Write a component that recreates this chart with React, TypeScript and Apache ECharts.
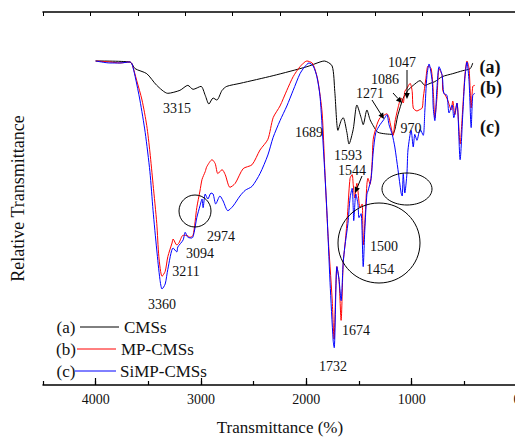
import React, { useEffect, useRef } from "react";
import * as echarts from "echarts";

// (a) CMSs
const cmsWavenumber = [4000, 3675, 3625, 3515, 3420, 3315, 3200, 3125, 3075, 3000, 2960, 2925, 2885, 2850, 2800, 2755, 2630, 2315, 1995, 1870, 1830, 1755, 1730, 1700, 1670, 1650, 1615, 1595, 1555, 1520, 1480, 1460, 1425, 1395, 1365, 1320, 1185, 1130, 1080, 1035, 985, 920, 875, 825, 780, 710, 610, 515, 445, 420];
const cmsT = [13.03, 12.99, 12.72, 12.52, 12.05, 11.73, 11.85, 12.05, 11.89, 12.01, 11.65, 11.3, 11.54, 11.46, 11.85, 12.01, 12.13, 12.44, 12.8, 12.99, 13.03, 12.83, 11.81, 10.24, 10.63, 10.75, 10.16, 9.69, 10.28, 11.26, 10.75, 10.47, 11.06, 10.67, 10.43, 10.16, 10.08, 10.87, 11.54, 11.85, 12.05, 12.24, 12.05, 12.13, 12.2, 12.4, 12.52, 12.64, 12.72, 12.95];

// (b) MP-CMSs
const mpWavenumber = [4000, 3865, 3770, 3675, 3655, 3610, 3560, 3515, 3485, 3455, 3420, 3400, 3370, 3340, 3315, 3275, 3265, 3230, 3210, 3170, 3135, 3105, 3075, 3040, 3010, 2990, 2960, 2945, 2895, 2865, 2840, 2800, 2770, 2725, 2675, 2600, 2515, 2440, 2365, 2315, 2250, 2185, 2125, 2060, 1995, 1945, 1920, 1890, 1850, 1825, 1795, 1755, 1737, 1710, 1690, 1670, 1650, 1635, 1615, 1605, 1585, 1565, 1555, 1540, 1520, 1510, 1490, 1470, 1460, 1445, 1425, 1415, 1395, 1375, 1365, 1330, 1300, 1270, 1255, 1235, 1215, 1205, 1175, 1160, 1130, 1100, 1080, 1065, 1045, 1015, 995, 985, 950, 930, 900, 890, 865, 845, 815, 795, 780, 760, 740, 710, 705, 675, 655, 625, 610, 590, 570, 540, 515, 495, 475, 455, 435, 420, 400];
const mpT = [13.03, 12.99, 12.95, 12.99, 12.91, 12.24, 11.46, 10.43, 9.37, 8.07, 6.5, 5.16, 4.37, 4.57, 5.16, 5.71, 5.87, 5.63, 5.71, 6.02, 6.02, 5.94, 6.02, 7.13, 7.8, 8.27, 8.58, 8.78, 9.06, 8.9, 8.5, 8.66, 8.46, 7.95, 8.11, 8.7, 8.86, 9.45, 9.88, 10.75, 11.22, 11.85, 12.4, 12.8, 13.03, 12.95, 12.72, 12.24, 10.94, 8.7, 6.1, 3.46, 1.85, 4.76, 4.25, 2.6, 4.92, 5.55, 6.5, 7.13, 8.31, 8.46, 8.07, 7.52, 8.11, 7.8, 7.13, 7.28, 5.63, 6.5, 8.07, 8.31, 8.07, 8.98, 9.88, 10.47, 10.75, 10.83, 10.87, 10.91, 10.75, 10.55, 10.04, 10.55, 11.14, 11.54, 11.34, 11.81, 11.93, 12.13, 11.81, 11.14, 11.02, 11.06, 11.14, 11.54, 12.32, 12.83, 12.72, 11.81, 10.75, 11.54, 12.72, 12.44, 11.85, 11.61, 11.42, 11.06, 11.42, 10.87, 11.34, 9.69, 11.14, 12.44, 13.03, 12.72, 11.14, 12.01, 12.05];

// (c) SiMP-CMSs
const simpWavenumber = [4000, 3865, 3770, 3675, 3655, 3625, 3580, 3530, 3485, 3455, 3420, 3390, 3370, 3340, 3315, 3265, 3230, 3220, 3170, 3150, 3125, 3085, 3065, 3040, 3010, 2990, 2980, 2960, 2935, 2905, 2885, 2860, 2820, 2790, 2745, 2695, 2630, 2580, 2515, 2440, 2365, 2315, 2250, 2185, 2125, 2060, 2015, 1975, 1935, 1900, 1870, 1840, 1805, 1775, 1745, 1735, 1710, 1690, 1670, 1650, 1635, 1605, 1585, 1565, 1555, 1550, 1530, 1510, 1500, 1480, 1460, 1445, 1425, 1415, 1385, 1365, 1340, 1300, 1265, 1235, 1215, 1185, 1160, 1130, 1100, 1090, 1080, 1065, 1045, 1035, 1005, 985, 970, 950, 920, 890, 875, 855, 835, 805, 795, 780, 760, 740, 710, 695, 665, 645, 615, 600, 570, 540, 515, 495, 475, 455, 435, 420, 400];
const simpT = [13.03, 12.95, 12.95, 12.99, 12.91, 12.4, 11.46, 10.16, 8.58, 7.01, 5.43, 4.25, 3.86, 4.06, 4.65, 5.51, 5.35, 5.55, 5.83, 6.14, 5.94, 5.91, 6.14, 6.73, 7.2, 7.48, 7.13, 7.68, 7.48, 7.72, 7.68, 7.28, 7.6, 7.4, 7.01, 7.2, 7.6, 7.83, 7.99, 8.5, 9.25, 9.96, 10.63, 11.22, 11.85, 12.52, 12.8, 12.95, 12.83, 12.4, 11.61, 9.65, 7.01, 4.13, 1.77, 1.5, 4.76, 4.25, 3.39, 4.92, 5.55, 6.5, 7.52, 7.91, 7.13, 6.61, 7.68, 7.28, 6.73, 6.89, 4.76, 6.22, 7.68, 7.8, 8.31, 9.37, 10.16, 10.47, 10.67, 10.87, 10.47, 10.08, 9.57, 8.66, 7.72, 7.6, 8.5, 7.72, 8.5, 9.45, 10.24, 9.57, 10.08, 9.84, 10.28, 10.04, 11.02, 12.44, 12.91, 12.2, 11.14, 10.63, 11.93, 12.8, 12.44, 11.73, 11.65, 10.94, 11.26, 10.75, 11.34, 9.06, 10.87, 12.32, 12.99, 12.2, 10.35, 11.65, 11.73];

const xTickLabels = ["4000", "3000", "2000", "1000", "0"];
const seriesNames = ["CMSs", "MP-CMSs", "SiMP-CMSs"];
const seriesTags = ["(a)", "(b)", "(c)"];
const peakLabels = ["3315", "1689", "1593", "1544", "1271", "1086", "1047", "970", "2974", "3094", "3211", "1500", "1454", "3360", "1674", "1732"];

const SERIF = "'Liberation Serif', 'Times New Roman', serif";

function zip(a: number[], b: number[]) {
  return a.map((v, i) => [v, b[i]]);
}

export default function App() {
  const ref = useRef<HTMLDivElement>(null);
  useEffect(() => {
    if (!ref.current) return;
    const chart = echarts.init(ref.current, undefined, { renderer: "svg" });
    const colors = ["#000000", "#ff0000", "#0000ff"];

    const peakPos: Record<string, [number, number]> = {
      "3315": [177, 108], "1689": [309, 132], "1593": [348, 155], "1544": [352, 170],
      "1271": [370, 93], "1086": [385, 79], "1047": [402, 62], "970": [411, 128],
      "2974": [221, 236], "3094": [200, 253], "3211": [186, 271], "1500": [384, 246],
      "1454": [380, 269], "3360": [162, 304], "1674": [356, 330], "1732": [333, 366],
    };
    const txt = (text: string, x: number, y: number, size: number, align = "center", bold = false) => ({
      type: "text", x, y, z: 100,
      style: {
        text, fill: "#111", font: `${bold ? "bold " : ""}${size}px ${SERIF}`,
        align, verticalAlign: "middle", textAlign: align, textVerticalAlign: "middle",
      },
    });
    const graphics: any[] = [];
    peakLabels.forEach((p) => graphics.push(txt(p, peakPos[p][0], peakPos[p][1], 14)));
    const tagPos: [number, number][] = [[490, 67], [491, 88], [490, 127]];
    seriesTags.forEach((t, i) => graphics.push(txt(t, tagPos[i][0], tagPos[i][1], 18, "center", true)));
    // legend
    const legY = [327, 349, 371];
    const legLine: [number, number][] = [[80, 119], [77, 116], [75, 116]];
    const legTextX = [124, 121, 120];
    seriesTags.forEach((t, i) => {
      graphics.push(txt(t, 66, legY[i], 17));
      graphics.push({ type: "line", z: 100, shape: { x1: legLine[i][0], y1: legY[i], x2: legLine[i][1], y2: legY[i] }, style: { stroke: colors[i], lineWidth: 1 } });
      graphics.push(txt(seriesNames[i], legTextX[i], legY[i], 17, "left"));
    });
    // ellipses
    const ell = [[195, 211, 16, 16], [407, 189, 25, 16], [379, 243, 41, 40]];
    ell.forEach((e) => graphics.push({ type: "ellipse", z: 100, shape: { cx: e[0], cy: e[1], rx: e[2], ry: e[3] }, style: { fill: "none", stroke: "#000", lineWidth: 1 } }));
    // arrows
    const arrows = [[407, 70, 407, 99], [393, 93, 402, 103], [372, 100, 384, 119], [362, 176, 355, 193]];
    arrows.forEach(([x1, y1, x2, y2]) => {
      const dx = x2 - x1, dy = y2 - y1; const L = Math.hypot(dx, dy);
      const ux = dx / L, uy = dy / L; const bx = x2 - ux * 6, by = y2 - uy * 6;
      graphics.push({ type: "line", z: 100, shape: { x1, y1, x2: bx, y2: by }, style: { stroke: "#000", lineWidth: 1 } });
      graphics.push({ type: "polygon", z: 100, shape: { points: [[x2, y2], [bx - uy * 2.8, by + ux * 2.8], [bx + uy * 2.8, by - ux * 2.8]] }, style: { fill: "#000" } });
    });

    const axisLineStyle = { color: "#000", width: 1.5 };
    chart.setOption({
      animation: false,
      backgroundColor: "#fff",
      grid: { left: 43, right: 13, top: 12, bottom: 48 },
      xAxis: [
        {
          type: "value", inverse: true, min: 0, max: 4500, interval: 1000, position: "bottom",
          axisLine: { show: true, lineStyle: axisLineStyle },
          axisTick: { show: true, inside: true, length: 7, lineStyle: { color: "#000", width: 1.2 } },
          axisLabel: {
            show: true, margin: 7, color: "#111", fontFamily: SERIF, fontSize: 14, showMaxLabel: false,
            formatter: (v: number) => (xTickLabels.includes(String(v)) ? String(v) : ""),
          },
          splitLine: { show: false },
          name: "Transmittance (%)", nameLocation: "middle", nameGap: 34,
          nameTextStyle: { color: "#111", fontFamily: SERIF, fontSize: 17 },
        },
        {
          type: "value", min: 0, max: 10, interval: 1, position: "top",
          axisLine: { show: true, lineStyle: axisLineStyle },
          axisTick: { show: true, inside: true, length: 4, lineStyle: { color: "#000" } },
          axisLabel: { show: false }, splitLine: { show: false },
        },
        {
          type: "value", inverse: true, min: 0, max: 4500, interval: 500, position: "bottom", offset: 0,
          axisLine: { show: false },
          axisTick: { show: true, inside: true, length: 4, lineStyle: { color: "#000", width: 1.2 } },
          axisLabel: { show: false }, splitLine: { show: false },
        },
      ],
      yAxis: {
        type: "value", min: 0, max: 15, interval: 1,
        axisLine: { show: true, lineStyle: axisLineStyle },
        axisTick: { show: true, inside: true, length: 4, lineStyle: { color: "#000" } },
        axisLabel: { show: false }, splitLine: { show: false },
        name: "Relative Transmittance", nameLocation: "middle", nameGap: 16,
        nameTextStyle: { color: "#111", fontFamily: SERIF, fontSize: 18 },
      },
      series: [
        { name: seriesNames[0], type: "line", data: zip(cmsWavenumber, cmsT) },
        { name: seriesNames[1], type: "line", data: zip(mpWavenumber, mpT) },
        { name: seriesNames[2], type: "line", data: zip(simpWavenumber, simpT) },
      ].map((s, i) => ({
        ...s, xAxisIndex: 0, yAxisIndex: 0, showSymbol: false, symbol: "none", smooth: 0.25,
        lineStyle: { color: colors[i], width: 1 }, itemStyle: { color: colors[i] }, z: 2 + i,
      })),
      graphic: graphics,
    });
    return () => chart.dispose();
  }, []);

  return (
    <div style={{ position: "fixed", left: 0, top: 0, width: 515, height: 441, overflow: "hidden", background: "#fff" }}>
      <div ref={ref} style={{ width: 530, height: 441 }} />
    </div>
  );
}
